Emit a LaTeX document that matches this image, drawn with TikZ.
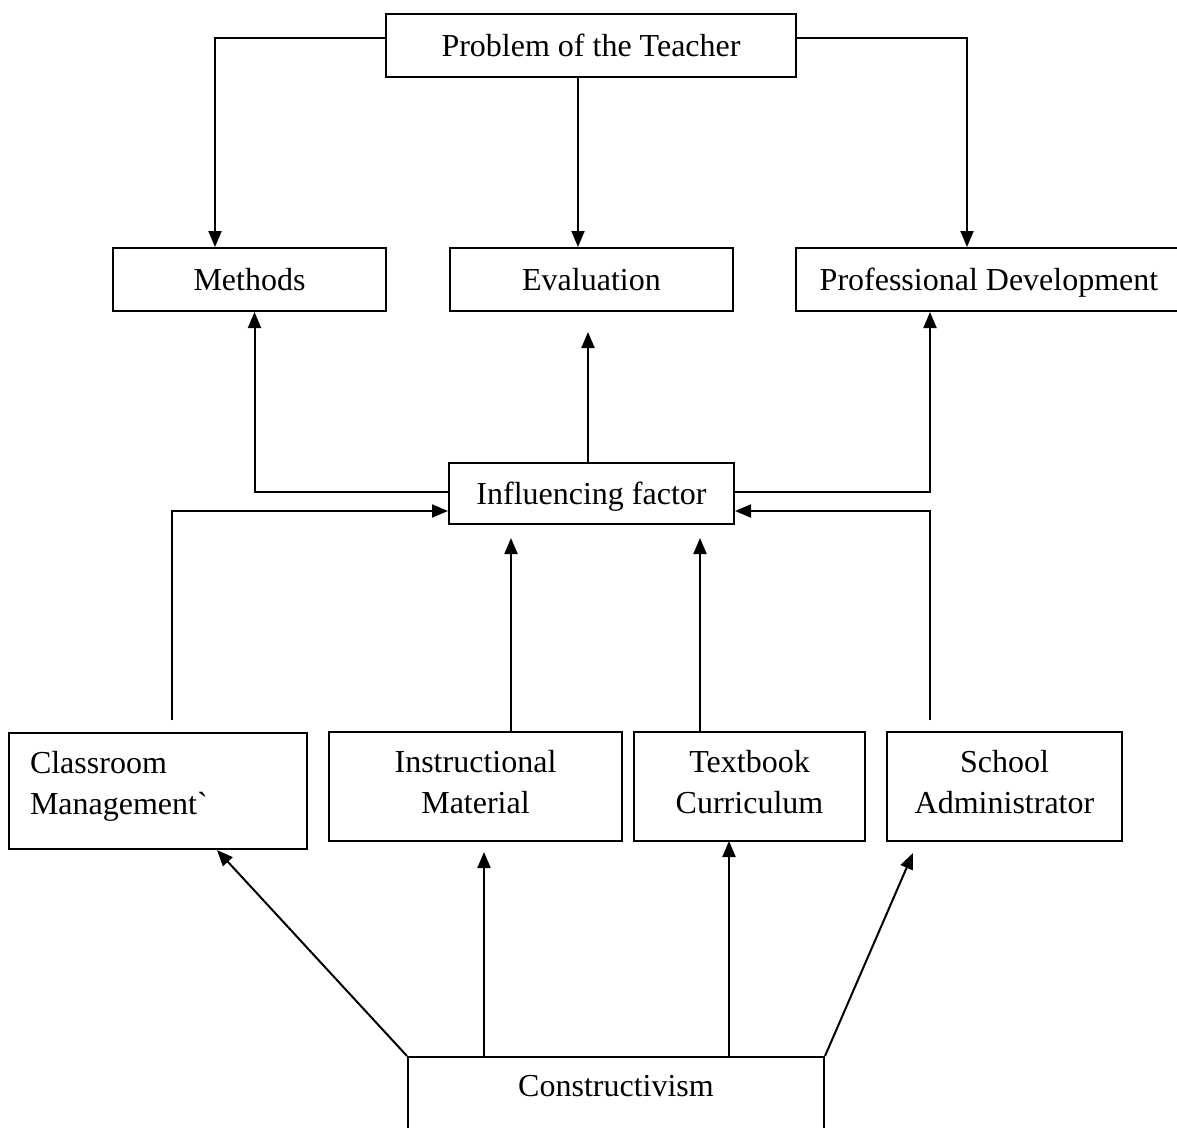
\documentclass[tikz,border=0pt]{standalone}
\usepackage{fontspec}
\setmainfont{Liberation Serif}
\usetikzlibrary{arrows.meta}
\newcommand{\lowdepth}[1]{\rule[-#1]{0pt}{#1}}
\begin{document}
\begin{tikzpicture}[x=1pt,y=-1pt,
  box/.style={draw,line width=2pt,inner sep=0pt,align=center,font=\fontsize{32}{41}\selectfont},
  onebox/.style={box,text height=26pt,text depth=5pt},
  arr/.style={line width=2pt,-{Triangle[length=16pt,width=13pt]}},
  ln/.style={line width=2pt}]
\useasboundingbox (0,0) rectangle (1177,1127);
\clip (0,0) rectangle (1177,1127);
\fill[white] (0,0) rectangle (1177,1127);
% top
\node[onebox,minimum width=410pt,minimum height=63pt] (prob) at (591,45.5) {Problem of the Teacher};
\node[onebox,minimum width=273pt,minimum height=63pt] (meth) at (249.5,279.5) {Methods};
\node[onebox,minimum width=283pt,minimum height=63pt] (eval) at (591.5,279.5) {Evaluation};
\node[onebox,minimum width=386pt,minimum height=63pt] (prof) at (989,279.5) {Professional Development};
\node[onebox,text height=26pt,text depth=4pt,minimum width=285pt,minimum height=61pt] (infl) at (591.5,493.5) {Influencing factor};
% second row
\node[box,text width=256pt,align=left,inner xsep=21pt,minimum height=116pt] (class) at (158,791) {Classroom\\Management\textasciigrave\lowdepth{17pt}};
\node[box,minimum width=293pt,minimum height=109pt] (instr) at (475.5,786.5) {Instructional\\Material\lowdepth{10pt}};
\node[box,minimum width=231pt,minimum height=109pt] (text) at (749.5,786.5) {Textbook\\Curriculum\lowdepth{10pt}};
\node[box,minimum width=235pt,minimum height=109pt] (school) at (1004.5,786.5) {School\\Administrator\lowdepth{10pt}};
% constructivism (box runs past the lower edge)
\node[draw,line width=2pt,minimum width=416pt,minimum height=150pt,anchor=north] (cons) at (616,1056) {};
\node[font=\fontsize{32}{41}\selectfont,inner sep=0pt] (constext) at (616,1086) {Constructivism};
% coordinates
\coordinate (c1) at (172,720);
\coordinate (s1) at (930,720);
\coordinate (iftipA) at (511,538);
\coordinate (iftipB) at (700,538);
\coordinate (ia) at (484,852);
\coordinate (ta) at (729,841);
\coordinate (sa) at (913,853);
\coordinate (evtip) at (588,332);
% problem -> three
\draw[arr] ([yshift=7.5pt]prob.west) -| ([xshift=-34.5pt]meth.north);
\draw[arr] ([yshift=7.5pt]prob.east) -| ([xshift=-22pt]prof.north);
\draw[arr] ([xshift=-13pt]prob.south) -- ([xshift=-13pt]prob.south |- eval.north);
% influencing -> three
\draw[arr] ([yshift=1.5pt]infl.west) -| ([xshift=5pt]meth.south);
\draw[arr] ([yshift=1.5pt]infl.east) -| ([xshift=-59pt]prof.south);
\draw[arr] (infl.north -| evtip) -- (evtip);
% second row -> influencing
\draw[arr] (c1) |- ([yshift=-17.5pt]infl.west);
\draw[arr] (s1) |- ([yshift=-17.5pt]infl.east);
\draw[arr] (instr.north -| iftipA) -- (iftipA);
\draw[arr] (text.north -| iftipB) -- (iftipB);
% constructivism -> second row
\draw[arr] (cons.north west) -- ([xshift=59pt]class.south);
\draw[arr] (cons.north -| ia) -- (ia);
\draw[arr] (cons.north -| ta) -- (ta);
\draw[arr] (cons.north east) -- (sa);
\end{tikzpicture}
\end{document}
